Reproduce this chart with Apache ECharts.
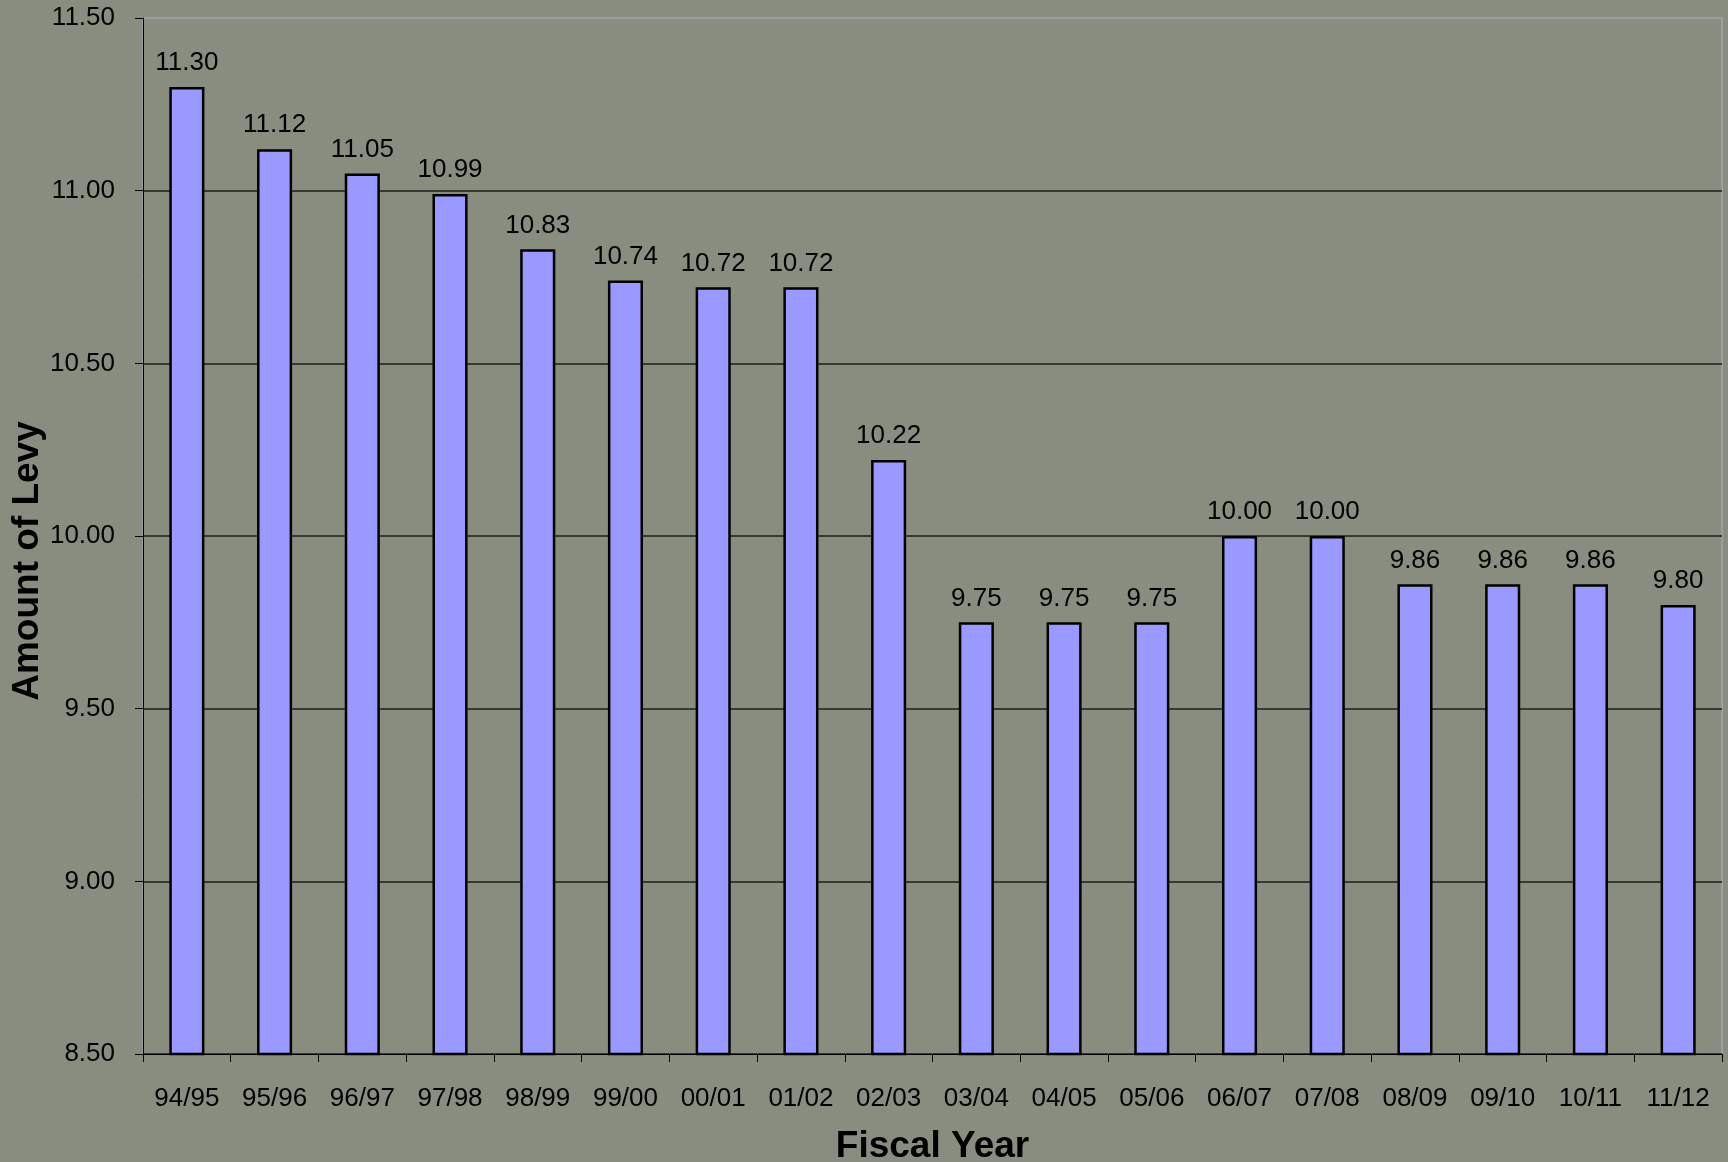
<!DOCTYPE html>
<html>
<head>
<meta charset="utf-8">
<style>
  html, body { margin: 0; padding: 0; background: #888d80; }
  #chart { width: 1728px; height: 1162px; }
</style>
<script src="https://cdn.jsdelivr.net/npm/echarts@6/dist/echarts.min.js"></script>
</head>
<body>
<div id="chart"></div>
<script>
// fiscal years and levy amounts
const years = ['94/95', '95/96', '96/97', '97/98', '98/99', '99/00', '00/01', '01/02', '02/03',
  '03/04', '04/05', '05/06', '06/07', '07/08', '08/09', '09/10', '10/11', '11/12']
const levy = [11.30, 11.12, 11.05, 10.99, 10.83, 10.74, 10.72, 10.72, 10.22,
  9.75, 9.75, 9.75, 10.00, 10.00, 9.86, 9.86, 9.86, 9.80]

const font = '"Liberation Sans", Arial, sans-serif'
const gridDark = '#373a33'

const chart = echarts.init(document.getElementById('chart'))
chart.setOption({
  backgroundColor: '#888d80',
  textStyle: { fontFamily: font },
  animation: false,
  grid: {
    left: 143,
    right: 6,
    top: 18,
    bottom: 108,
    containLabel: false,
    outerBoundsMode: 'none',
    show: true,
    borderColor: '#9d9da3',
    borderWidth: 2
  },
  xAxis: {
    type: 'category',
    data: years,
    name: 'Fiscal Year',
    nameLocation: 'middle',
    nameGap: 74,
    nameMoveOverlap: false,
    nameTextStyle: { fontSize: 37, fontWeight: 'bold', color: '#000', fontFamily: font },
    axisLine: { lineStyle: { color: '#000', width: 1 } },
    axisTick: { show: true, length: 8, lineStyle: { color: '#000' } },
    axisLabel: { fontSize: 26, color: '#000', margin: 32, fontFamily: font }
  },
  yAxis: {
    type: 'value',
    min: 8.5,
    max: 11.5,
    interval: 0.5,
    name: 'Amount of Levy',
    nameLocation: 'middle',
    nameRotate: 90,
    nameGap: 97,
    nameMoveOverlap: false,
    nameTextStyle: {
      fontSize: 37,
      fontWeight: 'bold',
      color: '#000',
      fontFamily: font,
      padding: [0, 50, 0, 0]
    },
    axisLine: { show: true, lineStyle: { color: '#000', width: 1 } },
    axisTick: { show: true, length: 8, lineStyle: { color: '#000' } },
    axisLabel: {
      fontSize: 26,
      color: '#000',
      margin: 28,
      fontFamily: font,
      formatter: (v) => v.toFixed(2)
    },
    splitLine: {
      show: true,
      lineStyle: {
        width: 2,
        color: [gridDark, gridDark, gridDark, gridDark, gridDark, gridDark, '#9d9da3']
      }
    }
  },
  series: [{
    type: 'bar',
    data: levy,
    barWidth: '40%',
    itemStyle: { color: '#9999ff', borderColor: '#000', borderWidth: 2.5 },
    label: {
      show: true,
      position: 'top',
      distance: 11,
      fontSize: 26,
      color: '#000',
      fontFamily: font,
      formatter: (p) => p.value.toFixed(2)
    }
  }]
})
</script>
</body>
</html>
